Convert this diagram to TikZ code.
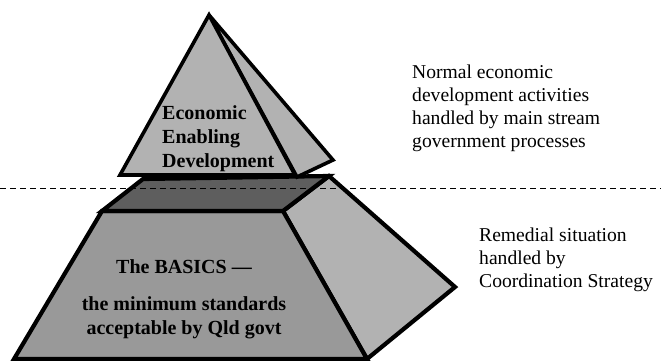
\documentclass[tikz,border=0pt]{standalone}
\usepackage{fontspec}
\setmainfont{Liberation Serif}
\definecolor{lightface}{gray}{0.70}
\definecolor{midface}{gray}{0.60}
\definecolor{darktop}{gray}{0.37}
\begin{document}
\begin{tikzpicture}[x=1pt,y=-1pt,
  face/.style={draw=black,line width=3.6pt,line join=miter,miter limit=4},
  heavyface/.style={face,line width=4.2pt},
  boldtext/.style={inner sep=0pt,font=\fontsize{20}{24}\selectfont\bfseries},
  note/.style={inner sep=0pt,align=left,font=\fontsize{19.6}{22.8}\selectfont},
  divider/.style={line width=0.9pt,dash pattern=on 6pt off 4pt}]
\useasboundingbox (0,0) rectangle (661,361);

% lower block: a frustum seen from the front-left
\coordinate (bFL) at (102,211);
\coordinate (bBL) at (143,179);
\coordinate (bBR) at (329,176);
\coordinate (bFR) at (283,211);
\coordinate (bLL) at (14,359);
\coordinate (bLR) at (367,359);
\coordinate (bSR) at (455,287);

\filldraw[heavyface,fill=lightface] (bFR) -- (bBR) -- (bSR) -- (bLR) -- cycle;
\filldraw[heavyface,fill=midface] (bFL) -- (bFR) -- (bLR) -- (bLL) -- cycle;
\filldraw[heavyface,fill=darktop] (bFL) -- (bBL) -- (bBR) -- (bFR) -- cycle;

% upper block: a small pyramid resting on the frustum
\coordinate (tA) at (209,15);
\coordinate (tFL) at (120,175);
\coordinate (tFR) at (295,175);
\coordinate (tSB) at (333,160);
\coordinate (tSF) at (297,177);

\filldraw[face,fill=lightface] (tA) -- (tSB) -- (tSF) -- cycle;
\filldraw[face,fill=lightface] (tA) -- (tFR) -- (tFL) -- cycle;

% boundary between the two regimes
\coordinate (dL) at (0,188);
\coordinate (dR) at (661,188);
\draw[divider] (dL) -- (dR);

% texts (the base anchor of a multi-line node sits on its last line)
\node[boldtext,align=left,anchor=base west] (econ) at (162,167)
  {Economic\\Enabling\\Development};
\node[boldtext,align=center,anchor=base] (basics) at (184,334)
  {The BASICS —\\[13pt]the minimum standards\\acceptable by Qld govt};
\node[note,anchor=base west] (normal) at (412,147)
  {Normal economic\\development activities\\handled by main stream\\government processes};
\node[note,anchor=base west] (remedial) at (479,287)
  {Remedial situation\\handled by\\Coordination Strategy};
\end{tikzpicture}
\end{document}
